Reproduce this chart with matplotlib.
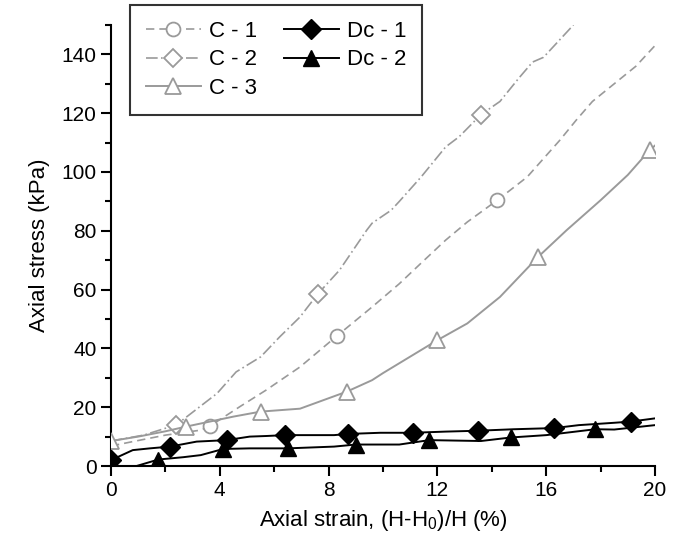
import matplotlib
matplotlib.use('Agg')
import matplotlib.pyplot as plt
import numpy as np

plt.rcParams['font.family'] = ['Liberation Sans', 'DejaVu Sans']
plt.rcParams['mathtext.default'] = 'regular'

# curves (axial strain %, axial stress kPa)
c1_x = [0, 0.8, 2.0, 3.3, 3.64, 4.74, 5.7, 6.95, 8.3, 9.6, 10.6, 11.4, 12.3, 13.1, 14.2,
        15.3, 16.5, 17.1, 17.7, 18.5, 19.3, 20.0]
c1_y = [6.8, 8.3, 10.5, 12.2, 13.6, 20.2, 25.8, 33.7, 44.2, 54.1, 62, 69, 76.8, 83.0, 90.4,
        98.3, 110.8, 117.6, 124, 130, 136, 143]
c1_mx = [3.64, 8.3, 14.2]

c2_x = [0, 1.2, 2.4, 3.9, 4.6, 5.5, 6.2, 6.95, 7.6, 8.4, 9.4, 9.6, 10.3, 10.6, 11.4, 12.3,
        12.8, 13.6, 14.3, 15.0, 15.5, 15.9, 16.5, 17.0]
c2_y = [8.5, 10.5, 14, 24.7, 32, 37.1, 43.9, 50.7, 58.5, 66.6, 80.2, 82.6, 87, 90, 98.3, 108.5,
        112, 119.5, 124, 132, 137.4, 139, 145, 150]
c2_mx = [2.4, 7.6, 13.6]

c3_x = [0, 1.0, 2.0, 2.76, 4.5, 5.5, 6.95, 8.67, 9.6, 10.0, 12.0, 13.1, 14.3, 15.7, 16.75,
        18.0, 19.0, 19.8, 20.0]
c3_y = [8.5, 10.0, 11.8, 13.4, 16.8, 18.5, 19.5, 25.3, 29.2, 31.6, 42.8, 48.5, 57.5, 71.1, 80.2,
        90.4, 99, 107.4, 109]
c3_mx = [0, 2.76, 5.5, 8.67, 12.0, 15.7, 19.8]

dc1_x = [0, 0.8, 1.43, 2.17, 3.15, 4.25, 5.1, 5.7, 6.4, 8.2, 8.7, 9.9, 11.1, 12.3, 13.5, 14.8,
         16.3, 17.2, 18.5, 19.1, 20.0]
dc1_y = [2.0, 5.4, 6.0, 6.6, 8.3, 8.8, 10.0, 10.2, 10.5, 10.5, 10.9, 11.3, 11.3, 11.7, 12.0, 12.5,
         12.9, 13.9, 14.7, 15.1, 16.2]
dc1_mx = [0, 2.17, 4.25, 6.4, 8.7, 11.1, 13.5, 16.3, 19.1]

dc2_x = [0.94, 1.74, 2.66, 3.3, 4.13, 5.1, 6.5, 8.2, 9.0, 10.6, 11.7, 13.6, 14.7, 16.0, 17.8,
         18.5, 20.0]
dc2_y = [0, 2.2, 3.0, 3.7, 5.8, 6.0, 6.0, 6.6, 7.3, 7.3, 8.8, 8.5, 9.7, 10.5, 12.5, 12.4, 13.9]
dc2_mx = [1.74, 4.13, 6.5, 9.0, 11.7, 14.7, 17.8]

gray = '#9a9a9a'

fig = plt.figure(figsize=(6.81, 5.51), dpi=100)
ax = fig.add_axes([111 / 681, 85 / 551, 544 / 681, 441 / 551])


def marks(x, mx):
    return list(np.where(np.isin(x, mx))[0])


ax.plot(c1_x, c1_y, color=gray, lw=1.2, ls=(0, (5, 3)), marker='o', ms=10,
        mfc='white', mec=gray, mew=1.3, markevery=marks(c1_x, c1_mx), label='C - 1', zorder=3)
ax.plot(c2_x, c2_y, color=gray, lw=1.2, ls=(0, (7, 2, 1, 2)), marker='D', ms=9,
        mfc='white', mec=gray, mew=1.3, markevery=marks(c2_x, c2_mx), label='C - 2', zorder=3)
ax.plot(c3_x, c3_y, color=gray, lw=1.4, ls='-', marker='^', ms=12,
        mfc='white', mec=gray, mew=1.3, markevery=marks(c3_x, c3_mx), label='C - 3', zorder=3)
ax.plot(dc1_x, dc1_y, color='black', lw=1.4, ls='-', marker='D', ms=10,
        mfc='black', mec='black', markevery=marks(dc1_x, dc1_mx), label='Dc - 1', zorder=4)
ax.plot(dc2_x, dc2_y, color='black', lw=1.4, ls='-', marker='^', ms=11,
        mfc='black', mec='black', markevery=marks(dc2_x, dc2_mx), label='Dc - 2', zorder=4)

ax.set_xlim(0, 20)
ax.set_ylim(0, 150)
ax.set_xticks(np.arange(0, 21, 4))
ax.set_xticks(np.arange(0, 21, 2), minor=True)
ax.set_yticks(np.arange(0, 141, 20))
ax.set_yticks(np.arange(0, 151, 10), minor=True)
for s in ['top', 'right']:
    ax.spines[s].set_visible(False)
for s in ['left', 'bottom']:
    ax.spines[s].set_linewidth(1.5)
ax.tick_params(which='major', length=7, width=1.5, labelsize=15)
ax.tick_params(which='minor', length=4, width=1.5)
for sp in ax.spines.values():
    sp.set_clip_on(False)

ax.set_xlabel('Axial strain, (H-H$_0$)/H (%)', fontsize=16, labelpad=6)
ax.set_ylabel('Axial stress (kPa)', fontsize=16, labelpad=8)

leg = ax.legend(ncol=2, loc='upper left', bbox_to_anchor=(130 / 681, 1 - 5 / 551),
                bbox_transform=fig.transFigure, fontsize=16, frameon=True, fancybox=False,
                handlelength=2.5, handletextpad=0.35, columnspacing=1.2, labelspacing=0.35,
                borderpad=0.7, borderaxespad=0)
leg.get_frame().set_edgecolor('black')
leg.get_frame().set_linewidth(1.5)

fig.savefig('out.png', dpi=100)
